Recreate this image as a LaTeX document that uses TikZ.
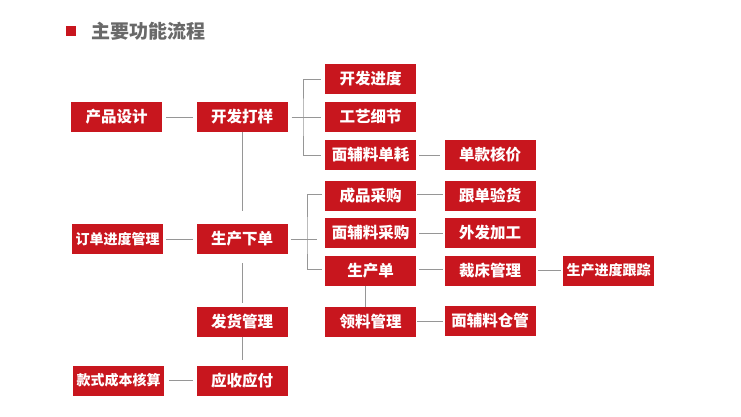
\documentclass[tikz,border=0pt]{standalone}
\usepackage{fontspec}
\setmainfont{Noto Sans CJK SC}
\definecolor{boxred}{RGB}{200,22,30}
\definecolor{linegray}{RGB}{150,150,150}
\definecolor{titlegray}{RGB}{105,105,105}
\tikzset{
  box/.style={fill=boxred, text=white, minimum width=91pt, minimum height=30pt, inner sep=0pt,
    font=\bfseries\fontsize{15.5}{16}\selectfont},
  boxsix/.style={box, font=\bfseries\fontsize{14}{15}\selectfont},
  conn/.style={draw=linegray, line width=0.9pt},
}
\begin{document}
\begin{tikzpicture}[x=1pt,y=-1pt]
\useasboundingbox (0,0) rectangle (741,417);
% title
\fill[boxred] (66,26) rectangle (76,36);
\node[anchor=west, text=titlegray, font=\bfseries\fontsize{19}{20}\selectfont, inner sep=0pt] (title) at (91,31) {主要功能流程};
% boxes
\node[box] (cpsj) at (116.5,117) {产品设计};
\node[box] (kfdy) at (242,117) {开发打样};
\node[box] (kfjd) at (370.5,79) {开发进度};
\node[box] (gyxj) at (370.5,117) {工艺细节};
\node[box] (mflsh) at (370.5,155) {面辅料单耗};
\node[box] (dkhj) at (490,155) {单款核价};
\node[boxsix] (ddjd) at (117.5,239) {订单进度管理};
\node[box] (scxd) at (242,239) {生产下单};
\node[box] (cpcg) at (370.5,196) {成品采购};
\node[box] (mflcg) at (370.5,233) {面辅料采购};
\node[box] (scd) at (370.5,271) {生产单};
\node[box] (gdyh) at (490,196) {跟单验货};
\node[box] (wfjg) at (490,233) {外发加工};
\node[box] (ccgl) at (490,271) {裁床管理};
\node[boxsix] (scjdgz) at (608.5,270.5) {生产进度跟踪};
\node[box] (llgl) at (370.5,322) {领料管理};
\node[box] (mflcgg) at (490,321) {面辅料仓管};
\node[box] (fhgl) at (242,321.5) {发货管理};
\node[box] (ysyf) at (242,380.5) {应收应付};
\node[boxsix] (kscb) at (118.5,380.5) {款式成本核算};
% connectors
\draw[conn, shorten <=4pt, shorten >=3pt] (cpsj) -- (kfdy);
\draw[conn, shorten <=3pt, shorten >=3pt] (ddjd) -- (scxd);
\draw[conn, shorten <=5pt, shorten >=3pt] (kscb) -- (ysyf);
\draw[conn, shorten >=13pt] (kfdy.south) -- (scxd.north);
\draw[conn, shorten <=9pt, shorten >=3pt] (scxd.south) -- (fhgl.north);
\draw[conn, shorten >=5pt] (fhgl.south) -- (ysyf.north);
% bracket 1
\coordinate (b1) at (303,117);
\draw[conn, shorten <=4pt, shorten >=4pt] (kfdy) -- (gyxj);
\draw[conn] ([xshift=-4pt]kfjd.west) -| (b1) |- ([xshift=-4pt]mflsh.west);
% bracket 2
\coordinate (b2) at (307,239);
\coordinate (b2e) at (317,239);
\draw[conn, shorten <=3pt] (scxd.east) -- (b2e);
\draw[conn] ([xshift=-3pt,yshift=2pt]cpcg.west) -| (b2) |- ([xshift=-3pt,yshift=2pt]scd.west);
% right side links
\draw[conn, shorten <=3pt, shorten >=4pt] (mflsh) -- (dkhj);
\draw[conn, shorten <=1pt, shorten >=1pt] ([yshift=2pt]cpcg.east) -- ([yshift=2pt]gdyh.west);
\draw[conn, shorten <=3pt, shorten >=1pt] (mflcg) -- (wfjg);
\draw[conn, shorten <=3pt, shorten >=1pt] ([yshift=2pt]scd.east) -- ([yshift=2pt]ccgl.west);
\draw[conn, shorten <=2pt, shorten >=2pt] ([yshift=1pt]ccgl.east) -- ([yshift=0.5pt]scjdgz.west);
\draw[conn] ([xshift=-5pt]scd.south) -- ([xshift=-5pt]llgl.north);
\draw[conn, shorten <=1pt, shorten >=1pt] ([yshift=1pt]llgl.east) -- (mflcgg.west);
\end{tikzpicture}
\end{document}
